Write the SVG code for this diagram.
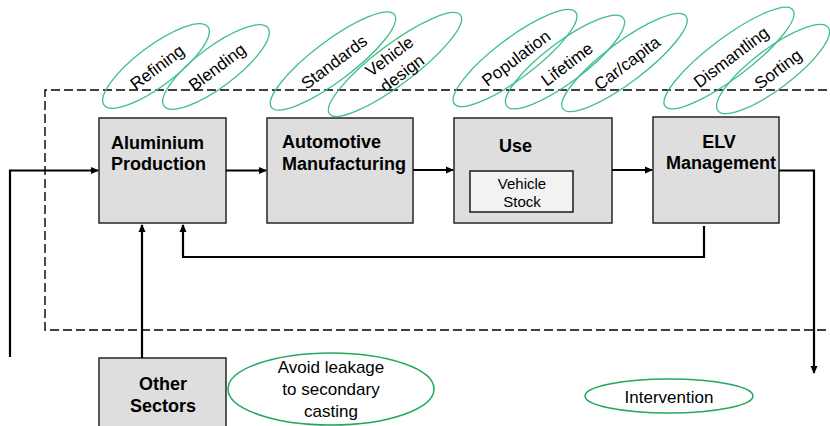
<svg xmlns="http://www.w3.org/2000/svg" width="830" height="426" viewBox="0 0 830 426">
<style>
.box{fill:#dedede;stroke:#262626;stroke-width:1.5}
.inner{fill:#f2f2f2;stroke:#1a1a1a;stroke-width:1.5}
.bold{font-family:"Liberation Sans",Arial,sans-serif;font-weight:bold;font-size:18px;fill:#000}
.reg{font-family:"Liberation Sans",Arial,sans-serif;font-size:17px;fill:#000}
.small{font-family:"Liberation Sans",Arial,sans-serif;font-size:15px;fill:#000}
.ell{fill:none;stroke:#3cbf8a;stroke-width:1.3}
.ell2{fill:none;stroke:#22a85c;stroke-width:1.5}
.con{fill:none;stroke:#000;stroke-width:2.2}
.dash{fill:none;stroke:#000;stroke-width:1.4;stroke-dasharray:9 4}
</style>
<defs>
<marker id="arr" viewBox="0 0 8 8" refX="7" refY="4" markerWidth="8" markerHeight="8" markerUnits="userSpaceOnUse" orient="auto">
<path d="M0,0.5 L8,4 L0,7.5 Z" fill="#000"/>
</marker>
</defs>
<rect width="830" height="426" fill="#fff"/>
<g id="boundary">
<path class="dash" d="M840,90 H45 V330 H840"/>
</g>
<g id="aluminium-production">
<rect class="box" x="99" y="118" width="127" height="105"/>
<text class="bold" x="111" y="149">Aluminium</text>
<text class="bold" x="111" y="170">Production</text>
</g>
<g id="automotive-manufacturing">
<rect class="box" x="267" y="118" width="146" height="105"/>
<text class="bold" x="282" y="148">Automotive</text>
<text class="bold" x="282" y="170">Manufacturing</text>
</g>
<g id="use">
<rect class="box" x="454" y="118" width="158" height="105"/>
<text class="bold" x="499" y="152">Use</text>
<g id="vehicle-stock">
<rect class="inner" x="470" y="171" width="103" height="41"/>
<text class="small" x="522" y="189" text-anchor="middle">Vehicle</text>
<text class="small" x="522" y="207" text-anchor="middle">Stock</text>
</g>
</g>
<g id="elv-management">
<rect class="box" x="653" y="117" width="126" height="106"/>
<text class="bold" x="719" y="148" text-anchor="middle">ELV</text>
<text class="bold" x="721" y="169" text-anchor="middle">Management</text>
</g>
<g id="other-sectors">
<rect class="box" x="99" y="358" width="127" height="75"/>
<text class="bold" x="163" y="390" text-anchor="middle">Other</text>
<text class="bold" x="163" y="412" text-anchor="middle">Sectors</text>
</g>
<g id="connectors">
<path class="con" d="M10,357 V170.5 H98" marker-end="url(#arr)"/>
<path class="con" d="M226,170.5 H266" marker-end="url(#arr)"/>
<path class="con" d="M413,170 H453" marker-end="url(#arr)"/>
<path class="con" d="M612,170 H652" marker-end="url(#arr)"/>
<path class="con" d="M779,170.5 H814 V373" marker-end="url(#arr)"/>
<path class="con" d="M704,226 V257 H183 V225" marker-end="url(#arr)"/>
<path class="con" d="M142,358 V225" marker-end="url(#arr)"/>
</g>
<g id="int-refining">
<ellipse class="ell" cx="156" cy="66" rx="65" ry="20" transform="rotate(-37 156 66)"/>
<text class="reg" x="157" y="73" text-anchor="middle" transform="rotate(-37 157 67)">Refining</text>
</g>
<g id="int-blending">
<ellipse class="ell" cx="216" cy="67" rx="65" ry="20" transform="rotate(-37 216 67)"/>
<text class="reg" x="217" y="73" text-anchor="middle" transform="rotate(-37 217 67)">Blending</text>
</g>
<g id="int-standards">
<ellipse class="ell" cx="333" cy="61" rx="77" ry="20" transform="rotate(-37 333 61)"/>
<text class="reg" x="334" y="68" text-anchor="middle" transform="rotate(-37 334 62)">Standards</text>
</g>
<g id="int-vehicle-design">
<ellipse class="ell" cx="395" cy="64.5" rx="82" ry="20" transform="rotate(-37 395 64.5)"/>
<text class="reg" text-anchor="middle" transform="rotate(-37 396 65)"><tspan x="396" y="60">Vehicle</tspan><tspan x="396" y="81">design</tspan></text>
</g>
<g id="int-population">
<ellipse class="ell" cx="515" cy="58" rx="76" ry="20" transform="rotate(-37 515 58)"/>
<text class="reg" x="516" y="64" text-anchor="middle" transform="rotate(-37 516 58)">Population</text>
</g>
<g id="int-lifetime">
<ellipse class="ell" cx="565" cy="62" rx="73" ry="20" transform="rotate(-37 565 62)"/>
<text class="reg" x="567" y="70" text-anchor="middle" transform="rotate(-37 567 64)">Lifetime</text>
</g>
<g id="int-car-capita">
<ellipse class="ell" cx="624.5" cy="62.5" rx="77" ry="20" transform="rotate(-37 624.5 62.5)"/>
<text class="reg" x="627" y="69" text-anchor="middle" transform="rotate(-37 627 63)">Car/capita</text>
</g>
<g id="int-dismantling">
<ellipse class="ell" cx="729" cy="58" rx="80" ry="20" transform="rotate(-37 729 58)"/>
<text class="reg" x="731" y="63" text-anchor="middle" transform="rotate(-37 731 57)">Dismantling</text>
</g>
<g id="int-sorting">
<ellipse class="ell" cx="773" cy="69" rx="69" ry="20" transform="rotate(-37 773 69)"/>
<text class="reg" x="778" y="75" text-anchor="middle" transform="rotate(-37 778 69)">Sorting</text>
</g>
<g id="avoid-leakage">
<ellipse class="ell2" cx="331" cy="389" rx="103" ry="36"/>
<text class="reg" x="331" y="373" text-anchor="middle">Avoid leakage</text>
<text class="reg" x="331" y="395" text-anchor="middle">to secondary</text>
<text class="reg" x="331" y="417" text-anchor="middle">casting</text>
</g>
<g id="intervention">
<ellipse class="ell2" cx="669" cy="396" rx="84" ry="17"/>
<text class="reg" x="669" y="403" text-anchor="middle">Intervention</text>
</g>
</svg>
